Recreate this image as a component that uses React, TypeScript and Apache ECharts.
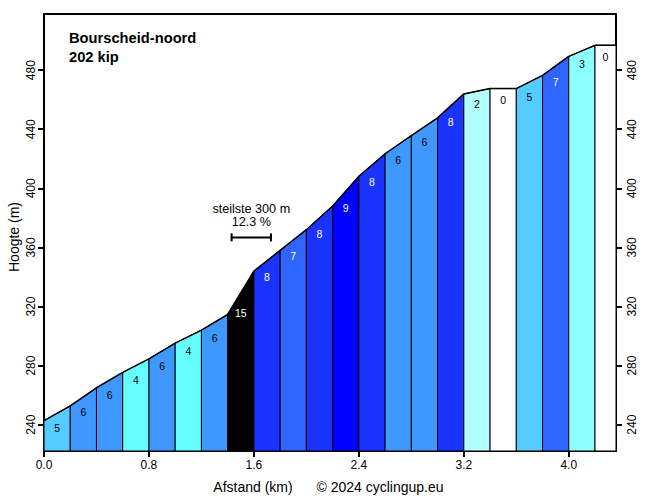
import React, { useEffect, useRef } from "react";
import * as echarts from "echarts";

const distances = [0, 0.2, 0.4, 0.6, 0.8, 1.0, 1.2, 1.4, 1.6, 1.8, 2.0, 2.2, 2.4, 2.6, 2.8, 3.0, 3.2, 3.4, 3.6, 3.8, 4.0, 4.2, 4.36];
const elevations = [242.7, 252.8, 265, 275.4, 284.6, 295.2, 304, 314.6, 344, 358, 372, 388, 408.2, 423.4, 435.7, 447.7, 463.9, 467.5, 467.5, 476.5, 489.3, 496.8, 496.8];
const gradients = [5, 6, 6, 4, 6, 4, 6, 15, 8, 7, 8, 9, 8, 6, 6, 8, 2, 0, 5, 7, 3, 0];
const xTicks = [0, 0.8, 1.6, 2.4, 3.2, 4.0];
const yTicks = [240, 280, 320, 360, 400, 440, 480];
const steepest = { from: 1.43, to: 1.73, elev: 366.8, line1: "steilste 300 m", line2: "12.3 %" };
const titleText = "Bourscheid-noord";
const subtitleText = "202 kip";

const Y_MIN = 222.2;
const Y_MAX = 518;
const X_MAX = 4.36;

const FONT = "Arial, 'Liberation Sans', sans-serif";

function gradColor(g: number): string {
  if (g <= 0) return "#ffffff";
  if (g <= 1) return "#d9ffff";
  if (g <= 2) return "#b3ffff";
  if (g <= 3) return "#8cffff";
  if (g <= 4) return "#66ffff";
  if (g <= 5) return "#55ccff";
  if (g <= 6) return "#3f98ff";
  if (g <= 7) return "#2f65ff";
  if (g <= 8) return "#1a33ff";
  if (g <= 9) return "#0000ff";
  if (g <= 10) return "#0000cc";
  return "#000000";
}

export default function App() {
  const ref = useRef<HTMLDivElement>(null);
  useEffect(() => {
    if (!ref.current) return;
    const chart = echarts.init(ref.current, undefined, { renderer: "svg" });
    const segments = gradients.map((g, i) => [distances[i], distances[i + 1], elevations[i], elevations[i + 1], g]);
    const profile = distances.map((d, i) => [d, elevations[i]]);

    const option: any = {
      animation: false,
      backgroundColor: "#ffffff",
      grid: { left: 44, right: 40, top: 14, bottom: 47, show: true, borderColor: "#000", borderWidth: 2, backgroundColor: "transparent" },
      xAxis: {
        type: "value",
        min: 0,
        max: X_MAX,
        axisLine: { show: true, lineStyle: { color: "#000", width: 2 } },
        axisTick: { show: true, length: 6, lineStyle: { color: "#000", width: 2 }, customValues: xTicks },
        axisLabel: { color: "#000", fontSize: 12, fontFamily: FONT, margin: 8, customValues: xTicks, formatter: (v: number) => v.toFixed(1) },
        splitLine: { show: false },
      },
      yAxis: [
        {
          type: "value",
          min: Y_MIN,
          max: Y_MAX,
          position: "left",
          axisLine: { show: true, lineStyle: { color: "#000", width: 2 } },
          axisTick: { show: true, length: 6, lineStyle: { color: "#000", width: 2 }, customValues: yTicks },
          axisLabel: { color: "#000", fontSize: 12, fontFamily: FONT, rotate: 90, margin: 7, customValues: yTicks },
          splitLine: { show: false },
        },
        {
          type: "value",
          min: Y_MIN,
          max: Y_MAX,
          position: "right",
          axisLine: { show: true, lineStyle: { color: "#000", width: 2 } },
          axisTick: { show: true, length: 6, lineStyle: { color: "#000", width: 2 }, customValues: yTicks },
          axisLabel: { color: "#000", fontSize: 12, fontFamily: FONT, rotate: 90, margin: 10, customValues: yTicks },
          splitLine: { show: false },
        },
      ],
      series: [
        {
          type: "custom",
          z: 2,
          renderItem: (params: any, api: any) => {
            const x0 = api.value(0), x1 = api.value(1), e0 = api.value(2), e1 = api.value(3), g = api.value(4);
            const p0 = api.coord([x0, e0]);
            const p1 = api.coord([x1, e1]);
            const b0 = api.coord([x0, Y_MIN]);
            const b1 = api.coord([x1, Y_MIN]);
            const mid = (e0 + e1) / 2;
            const lp = api.coord([(x0 + x1) / 2, mid - 8 - 0.4 * g]);
            return {
              type: "group",
              children: [
                { type: "polygon", shape: { points: [b0, p0, p1, b1] }, style: { fill: gradColor(g), stroke: "#000", lineWidth: 1 } },
                {
                  type: "text",
                  style: { text: String(g), x: lp[0], y: lp[1], align: "center", verticalAlign: "middle", fill: g >= 7 ? "#ffffff" : "#000000", font: `10.5px ${FONT}` },
                },
              ],
            };
          },
          data: segments,
        },
        {
          type: "line",
          z: 3,
          data: profile,
          symbol: "none",
          lineStyle: { color: "#000", width: 1.5 },
        },
        {
          type: "custom",
          z: 4,
          renderItem: (params: any, api: any) => {
            const a = api.coord([api.value(0), api.value(2)]);
            const b = api.coord([api.value(1), api.value(2)]);
            const cx = (a[0] + b[0]) / 2;
            return {
              type: "group",
              children: [
                { type: "line", shape: { x1: a[0], y1: a[1], x2: b[0], y2: b[1] }, style: { stroke: "#000", lineWidth: 2 } },
                { type: "line", shape: { x1: a[0], y1: a[1] - 4, x2: a[0], y2: a[1] + 4 }, style: { stroke: "#000", lineWidth: 2 } },
                { type: "line", shape: { x1: b[0], y1: b[1] - 4, x2: b[0], y2: b[1] + 4 }, style: { stroke: "#000", lineWidth: 2 } },
                { type: "text", style: { text: steepest.line1, x: cx, y: a[1] - 28, align: "center", verticalAlign: "middle", fill: "#000", font: `12.6px ${FONT}` } },
                { type: "text", style: { text: steepest.line2, x: cx, y: a[1] - 15, align: "center", verticalAlign: "middle", fill: "#000", font: `12.6px ${FONT}` } },
              ],
            };
          },
          data: [[steepest.from, steepest.to, steepest.elev]],
        },
      ],
      graphic: [
        { type: "text", x: 69, y: 38, style: { text: titleText, font: `bold 14.7px ${FONT}`, fill: "#000", verticalAlign: "middle" } },
        { type: "text", x: 69, y: 57, style: { text: subtitleText, font: `bold 14.7px ${FONT}`, fill: "#000", verticalAlign: "middle" } },
        { type: "text", x: 253, y: 487, style: { text: "Afstand (km)", font: `14px ${FONT}`, fill: "#000", align: "center", verticalAlign: "middle" } },
        { type: "text", x: 380, y: 487, style: { text: "© 2024 cyclingup.eu", font: `14px ${FONT}`, fill: "#000", align: "center", verticalAlign: "middle" } },
        { type: "text", x: 14, y: 237, rotation: Math.PI / 2, style: { text: "Hoogte (m)", font: `14px ${FONT}`, fill: "#000", align: "center", verticalAlign: "middle" } },
      ],
    };
    chart.setOption(option);
    return () => chart.dispose();
  }, []);
  return <div ref={ref} style={{ width: 656, height: 498, position: "absolute", left: 0, top: 0 }} />;
}
